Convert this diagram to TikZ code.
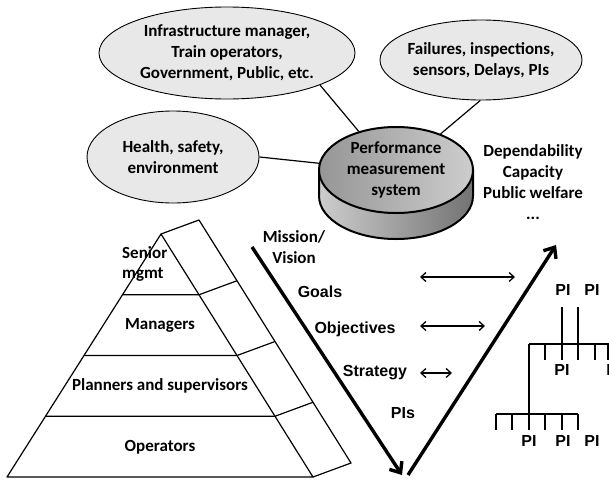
\documentclass[tikz,border=0pt]{standalone}
\usepackage{fontspec}
\setmainfont{Carlito}
\newfontfamily\ArialFont{Liberation Sans}
\usepackage{tikz}
\usetikzlibrary{shapes.geometric}
\usetikzlibrary{arrows.meta}
\usetikzlibrary{calc}
\usepackage{xcolor}
\definecolor{ColBubble}{RGB}{232,232,232}
\definecolor{ColTopA}{RGB}{150,150,150}
\definecolor{ColTopB}{RGB}{205,205,205}
\definecolor{ColSideA}{RGB}{205,205,205}
\definecolor{ColSideB}{RGB}{115,115,115}
\newcommand{\CalFont}{\fontsize{17}{20.8}\selectfont\bfseries}
\newcommand{\ArFont}{\ArialFont\fontsize{16}{19}\selectfont\bfseries}
\tikzstyle{Bubble}=[ellipse,draw=black,fill=ColBubble,line width=0.9pt,inner sep=0pt,
align=center,font=\CalFont]
\tikzstyle{CylTop}=[ellipse,draw=black,line width=2pt,left color=ColTopA,right color=ColTopB,
inner sep=0pt,minimum width=154pt,minimum height=86pt,align=center,font=\CalFont]
\tikzstyle{CylSide}=[draw=black,line width=2pt,left color=ColSideA,right color=ColSideB]
\tikzstyle{Link}=[black,line width=1.2pt]
\tikzstyle{Plain}=[inner sep=0pt,align=center,font=\CalFont]
\tikzstyle{VLabel}=[inner sep=0pt,font=\ArFont]
\tikzstyle{PyrLine}=[black,line width=1.2pt,line join=round]
\tikzstyle{VArrow}=[black,line width=3.4pt,-{Straight Barb[length=9pt,width=15pt]}]
\tikzstyle{LinkArrow}=[black,line width=1.3pt,{Straight Barb[length=5pt,width=9pt]}-{Straight Barb[length=5pt,width=9pt]}]
\tikzstyle{TreeLine}=[black,line width=1.5pt]

\begin{document}
\begin{tikzpicture}[x=1pt,y=-1pt]
        \useasboundingbox(0,0)rectangle(609,479);
        % who and what feeds the system
        \node[Bubble,minimum width=256pt,minimum height=92pt](infra)at(227,53){Infrastructure manager,\\Train operators,\\Government, Public, etc.};
        \node[Bubble,minimum width=202pt,minimum height=80pt,inner xsep=-4pt](data)at(481,60){Failures, inspections,\\sensors, Delays, PIs};
        \node[Bubble,minimum width=172pt,minimum height=92pt](hse)at(173,157){Health, safety,\\environment};
        % the disc
        \shade[CylSide](319,170)--(319,196)arc[start angle=180,end angle=0,x radius=77,y radius=43]--(473,170)--cycle;
        \node[CylTop](pms)at(396,170){Performance\\measurement\\system};
        \draw[Link](infra.-19)--(pms.134);
        \draw[Link](data.-91)--(pms.39);
        \draw[Link](hse.0)--(pms.175);
        \node[Plain](crit)at(533,182){Dependability\\Capacity\\Public welfare\\...};
        % pyramid
        \coordinate(apex)at(161,234);
        \coordinate(baseL)at(7,477);
        \coordinate(baseR)at(313,477);
        \node[Plain,align=left,anchor=west](senior)at(122,264){Senior\\mgmt};
        \node[Plain](mgr)at(160,325){Managers};
        \node[Plain](plan)at(160,386){Planners and supervisors};
        \node[Plain](oper)at(160,447){Operators};
        \draw[PyrLine](baseL)--(apex)--(baseR)--cycle;
        \draw[PyrLine](apex)--++(38,-14)--($(baseR)+(38,-14)$)--(baseR);
        \foreach \t in {0.25,0.5,0.75}
            \draw[PyrLine]($(apex)!\t!(baseL)$)--($(apex)!\t!(baseR)$)--++(38,-14);
        % V
        \coordinate(vtopL)at(252,247);
        \coordinate(vbotL)at(402,475);
        \coordinate(vbotR)at(408,475);
        \coordinate(vtopR)at(556,245);
        \draw[VArrow](vtopL)--(vbotL);
        \draw[VArrow](vbotR)--(vtopR);
        \node[Plain](mission)at(294,247){Mission/\\Vision};
        \node[VLabel](goals)at(320,292){Goals};
        \node[VLabel](obj)at(355,329){Objectives};
        \node[VLabel](strat)at(375,373){Strategy};
        \node[VLabel](pis)at(403,413){PIs};
        \coordinate(goalsA)at(420,277);
        \coordinate(goalsB)at(515,277);
        \coordinate(objA)at(420,326);
        \coordinate(objB)at(485,326);
        \coordinate(stratA)at(420,373);
        \coordinate(stratB)at(452,373);
        \draw[LinkArrow](goalsA)--(goalsB);
        \draw[LinkArrow](objA)--(objB);
        \draw[LinkArrow](stratA)--(stratB);
        % PI tree
        \node[VLabel](piA)at(563,290){PI};
        \node[VLabel](piB)at(592,290){PI};
        \node[VLabel](piC)at(562,370){PI};
        \node[VLabel](piD)at(614,370){PI};
        \node[VLabel](piE)at(529,441){PI};
        \node[VLabel](piF)at(563,441){PI};
        \node[VLabel](piG)at(592,441){PI};
        \coordinate(barA)at(529,344);
        \coordinate(barB)at(496,414);
        \draw[TreeLine](barA)--++(83,0);
        \draw[TreeLine](barA)--(529,430);
        \draw[TreeLine](barB)--++(82,0);
        \foreach \x in {545,595,608}
            \draw[TreeLine](\x,344)--++(0,16);
        \foreach \x in {562,578}
            \draw[TreeLine](\x,307)--++(0,53);
        \foreach \x in {496,512,545,562,578}
            \draw[TreeLine](\x,414)--++(0,16);
    \end{tikzpicture}
\end{document}
